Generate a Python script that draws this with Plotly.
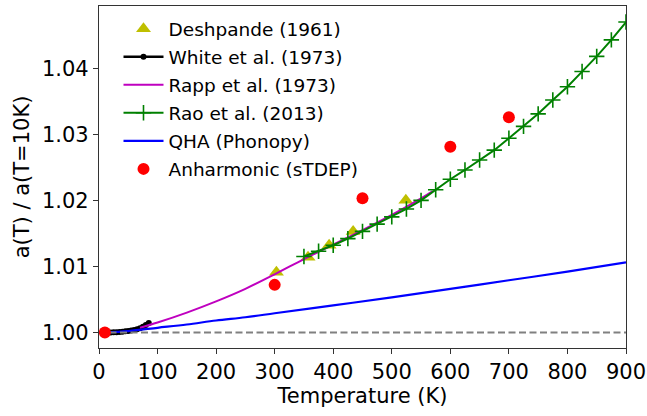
import plotly.graph_objects as go

# ---------------- data ----------------
desh_T = [303, 357, 393, 434, 524]
desh_y = [1.0091, 1.0114, 1.0132, 1.0153, 1.0200]

white_T = [10, 15, 20, 25, 30, 35, 40, 45, 50, 55, 60, 65, 70, 75, 80, 85]
white_y = [1.0000, 1.0000, 1.0000, 1.00002, 1.00004, 1.00007, 1.00011, 1.00016,
           1.00022, 1.00029, 1.00037, 1.00047, 1.00062, 1.00085, 1.00112, 1.00142]

rapp_T = [70, 100, 150, 200, 250, 300, 350, 400, 450, 500, 550, 570]
rapp_y = [1.0007, 1.0015, 1.0030, 1.0047, 1.0066, 1.0088, 1.0111, 1.0133,
          1.0155, 1.0178, 1.0203, 1.0214]

rao_T = [350, 375, 400, 425, 450, 475, 500, 525, 550, 575, 600, 625, 650,
         675, 700, 725, 750, 775, 800, 825, 850, 875, 900]
rao_y = [1.0115, 1.0123, 1.0132, 1.0142, 1.0153, 1.0164, 1.0175, 1.0187,
         1.0200, 1.0216, 1.0232, 1.0246, 1.0261, 1.0276, 1.0294, 1.0312,
         1.0331, 1.0352, 1.0372, 1.0395, 1.0418, 1.0443, 1.0470]

qha_T = [10, 50, 100, 150, 200, 250, 300, 400, 500, 600, 700, 800, 900]
qha_y = [1.0000, 1.0002, 1.0007, 1.0012, 1.0018, 1.0023, 1.0029, 1.0041,
         1.0053, 1.0066, 1.0079, 1.0092, 1.0106]

stdep_T = [10, 300, 450, 600, 700]
stdep_y = [1.0000, 1.0072, 1.0203, 1.0281, 1.0326]

ref_T = [0, 900]
ref_y = [1.0, 1.0]

x_ticks = [0, 100, 200, 300, 400, 500, 600, 700, 800, 900]
y_ticks = [1.00, 1.01, 1.02, 1.03, 1.04]
y_ticklabels = ["1.00", "1.01", "1.02", "1.03", "1.04"]

# ---------------- figure ----------------
FONT = "DejaVu Sans"
fig = go.Figure()

fig.add_trace(go.Scatter(x=desh_T, y=desh_y, mode="markers", name="Deshpande (1961)",
                         legendgroup="a",
                         marker=dict(symbol="triangle-up", size=13, color="#bfbf00")))
fig.add_trace(go.Scatter(x=white_T, y=white_y, mode="lines+markers", name="White et al. (1973)",
                         legendgroup="b",
                         line=dict(color="black", width=2.5),
                         marker=dict(symbol="circle", size=6, color="black")))
fig.add_trace(go.Scatter(x=rapp_T, y=rapp_y, mode="lines", name="Rapp et al. (1973)",
                         legendgroup="c", line=dict(color="#bf00bf", width=2, shape="spline")))
fig.add_trace(go.Scatter(x=rao_T, y=rao_y, mode="lines+markers", name="Rao et al. (2013)",
                         legendgroup="d",
                         line=dict(color="#008000", width=2),
                         marker=dict(symbol="cross-thin", size=11, color="#008000",
                                     line=dict(color="#008000", width=1.6))))
fig.add_trace(go.Scatter(x=qha_T, y=qha_y, mode="lines", name="QHA (Phonopy)",
                         legendgroup="e", line=dict(color="#0000ff", width=2.2, shape="spline")))
fig.add_trace(go.Scatter(x=ref_T, y=ref_y, mode="lines", showlegend=False,
                         line=dict(color="#808080", width=2, dash="7px,3.5px")))
fig.add_trace(go.Scatter(x=stdep_T, y=stdep_y, mode="markers", name="Anharmonic (sTDEP)",
                         legendgroup="f",
                         marker=dict(symbol="circle", size=12, color="#ff0000")))

axis_common = dict(showgrid=False, zeroline=False, showline=True, linecolor="#333333",
                   linewidth=1.2, mirror=True, ticks="outside", ticklen=5, tickwidth=1.2,
                   tickcolor="#333333", tickfont=dict(family=FONT, size=21, color="black"))

fig.update_xaxes(range=[0, 900], tickvals=x_ticks, **axis_common,
                 title=dict(text="Temperature (K)", font=dict(family=FONT, size=21, color="black"),
                            standoff=2))
fig.update_yaxes(range=[0.99764, 1.04943], tickvals=y_ticks, ticktext=y_ticklabels, **axis_common,
                 title=dict(text="a(T) / a(T=10K)", font=dict(family=FONT, size=21, color="black"),
                            standoff=6))

fig.update_layout(
    width=647, height=416,
    margin=dict(l=98.5, r=21.3, t=6, b=67.7, autoexpand=False),
    paper_bgcolor="white", plot_bgcolor="white",
    showlegend=True,
    legend=dict(x=0.037, y=0.988, xanchor="left", yanchor="top",
                bgcolor="rgba(255,255,255,0)", borderwidth=0,
                font=dict(family=FONT, size=18.5, color="black"),
                traceorder="grouped", tracegroupgap=1, itemwidth=40),
)

fig.write_html("out.html")
